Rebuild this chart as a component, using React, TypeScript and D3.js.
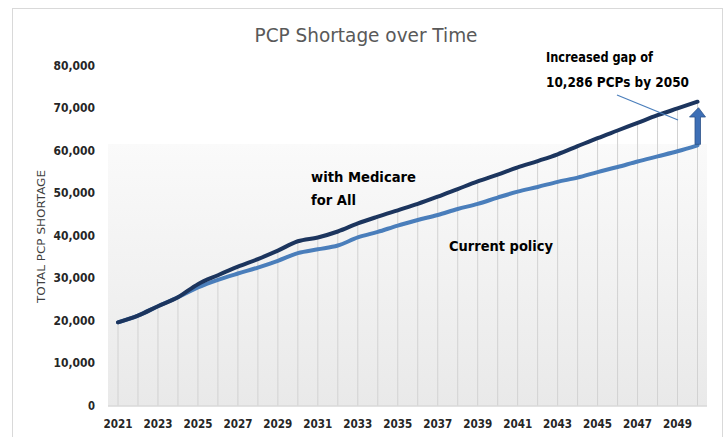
import React from "react";
import * as d3 from "d3";

const years = d3.range(2021, 2051);
const medicareForAll = [
  19600, 21200, 23400, 25500, 28600, 30700, 32700, 34500, 36500, 38700,
  39600, 41000, 42900, 44500, 46000, 47500, 49200, 51000, 52800, 54400,
  56100, 57600, 59200, 61100, 63000, 64800, 66600, 68400, 70000, 71586,
];
const currentPolicy = [
  19600, 21200, 23400, 25500, 27800, 29600, 31100, 32500, 34100, 35900,
  36800, 37700, 39600, 40900, 42400, 43700, 44900, 46300, 47500, 49000,
  50400, 51500, 52700, 53700, 55000, 56200, 57500, 58700, 59900, 61300,
];
const yTicks = [0, 10000, 20000, 30000, 40000, 50000, 60000, 70000, 80000];
const xTickYears = years.filter((y) => (y - 2021) % 2 === 0 && y < 2050);

const W = 725;
const H = 437;
const FONT = "'Liberation Sans Narrow', 'DejaVu Sans Condensed', 'Liberation Sans', Arial, sans-serif";

export default function App() {
  const x = d3.scalePoint<number>().domain(years).range([118, 697.5]);
  const y = d3.scaleLinear().domain([0, 80000]).range([405.5, 66]);
  const plot = { x0: 108, x1: 707, y0: 144, y1: 406 };

  const line = d3
    .line<number>()
    .x((_, i) => x(years[i]) as number)
    .y((d) => y(d))
    .curve(d3.curveMonotoneX);

  const last = years.length - 1;
  const xEnd = x(years[last]) as number;

  return (
    <svg
      width={W}
      height={H}
      style={{ position: "absolute", left: 0, top: 0, background: "#fff" }}
      fontFamily={FONT}
    >
      <defs>
        <linearGradient id="bg" x1="0" y1="0" x2="0" y2="1">
          <stop offset="0" stopColor="#fafafa" />
          <stop offset="1" stopColor="#e9e9e9" />
        </linearGradient>
      </defs>
      <rect x={12.5} y={8.5} width={710} height={440} fill="#fff" stroke="#d9d9d9" strokeWidth={1} />
      <rect x={plot.x0} y={plot.y0} width={plot.x1 - plot.x0} height={plot.y1 - plot.y0} fill="url(#bg)" />

      {/* drop lines */}
      {years.map((yr, i) => (
        <line
          key={yr}
          x1={x(yr)}
          x2={x(yr)}
          y1={y(Math.max(medicareForAll[i], currentPolicy[i]))}
          y2={plot.y1}
          stroke="#d2d2d2"
          strokeWidth={1}
        />
      ))}
      <line x1={plot.x0} x2={plot.x1} y1={plot.y1} y2={plot.y1} stroke="#d9d9d9" strokeWidth={1.5} />

      {/* title */}
      <text x={366} y={42} textAnchor="middle" fontSize={19} fill="#595959" textLength={223} lengthAdjust="spacingAndGlyphs">
        PCP Shortage over Time
      </text>

      {/* y ticks */}
      {yTicks.map((t) => {
        const s = d3.format(",")(t);
        return (
          <text
            key={t}
            x={95}
            y={y(t) + 4}
            textAnchor="end"
            fontSize={11.5}
            fontWeight="bold"
            fill="#262626"
            textLength={s.length === 1 ? 7 : 41.5}
            lengthAdjust="spacingAndGlyphs"
          >
            {s}
          </text>
        );
      })}

      {/* x ticks */}
      {xTickYears.map((yr) => (
        <text
          key={yr}
          x={x(yr)}
          y={428}
          textAnchor="middle"
          fontSize={11.5}
          fontWeight="bold"
          fill="#262626"
          textLength={29}
          lengthAdjust="spacingAndGlyphs"
        >
          {yr}
        </text>
      ))}

      {/* y axis title */}
      <text
        transform={`translate(45,236.5) rotate(-90)`}
        textAnchor="middle"
        fontSize={10.5}
        fill="#404040"
        textLength={133}
        lengthAdjust="spacingAndGlyphs"
      >
        TOTAL PCP SHORTAGE
      </text>

      {/* series */}
      <path d={line(currentPolicy) || ""} fill="none" stroke="#4a7ebb" strokeWidth={4} strokeLinecap="round" strokeLinejoin="round" />
      <path d={line(medicareForAll) || ""} fill="none" stroke="#1c355e" strokeWidth={4} strokeLinecap="round" strokeLinejoin="round" />

      {/* annotations */}
      <text x={311} y={182} fontSize={14} fontWeight="bold" fill="#000" textLength={105} lengthAdjust="spacingAndGlyphs">
        with Medicare
      </text>
      <text x={311} y={205} fontSize={14} fontWeight="bold" fill="#000" textLength={45} lengthAdjust="spacingAndGlyphs">
        for All
      </text>
      <text x={449} y={251} fontSize={14} fontWeight="bold" fill="#000" textLength={104} lengthAdjust="spacingAndGlyphs">
        Current policy
      </text>
      <text x={546} y={62} fontSize={14} fontWeight="bold" fill="#000" textLength={107} lengthAdjust="spacingAndGlyphs">
        Increased gap of
      </text>
      <text x={546} y={87} fontSize={14} fontWeight="bold" fill="#000" textLength={143} lengthAdjust="spacingAndGlyphs">
        10,286  PCPs by 2050
      </text>
      <line x1={617} y1={95} x2={678} y2={120} stroke="#4a7ebb" strokeWidth={1.2} />

      {/* arrow showing gap */}
      <path
        d={`M${xEnd - 2.5},${y(currentPolicy[last]) - 1} L${xEnd - 2.5},${117} L${xEnd - 8},${117} L${xEnd + 1},${y(medicareForAll[last]) + 6} L${xEnd + 8},${117} L${xEnd + 3},${117} L${xEnd + 3},${y(currentPolicy[last]) - 1} Z`}
        fill="#3d6fb6"
        stroke="#2c5288"
        strokeWidth={0.8}
      />
    </svg>
  );
}
